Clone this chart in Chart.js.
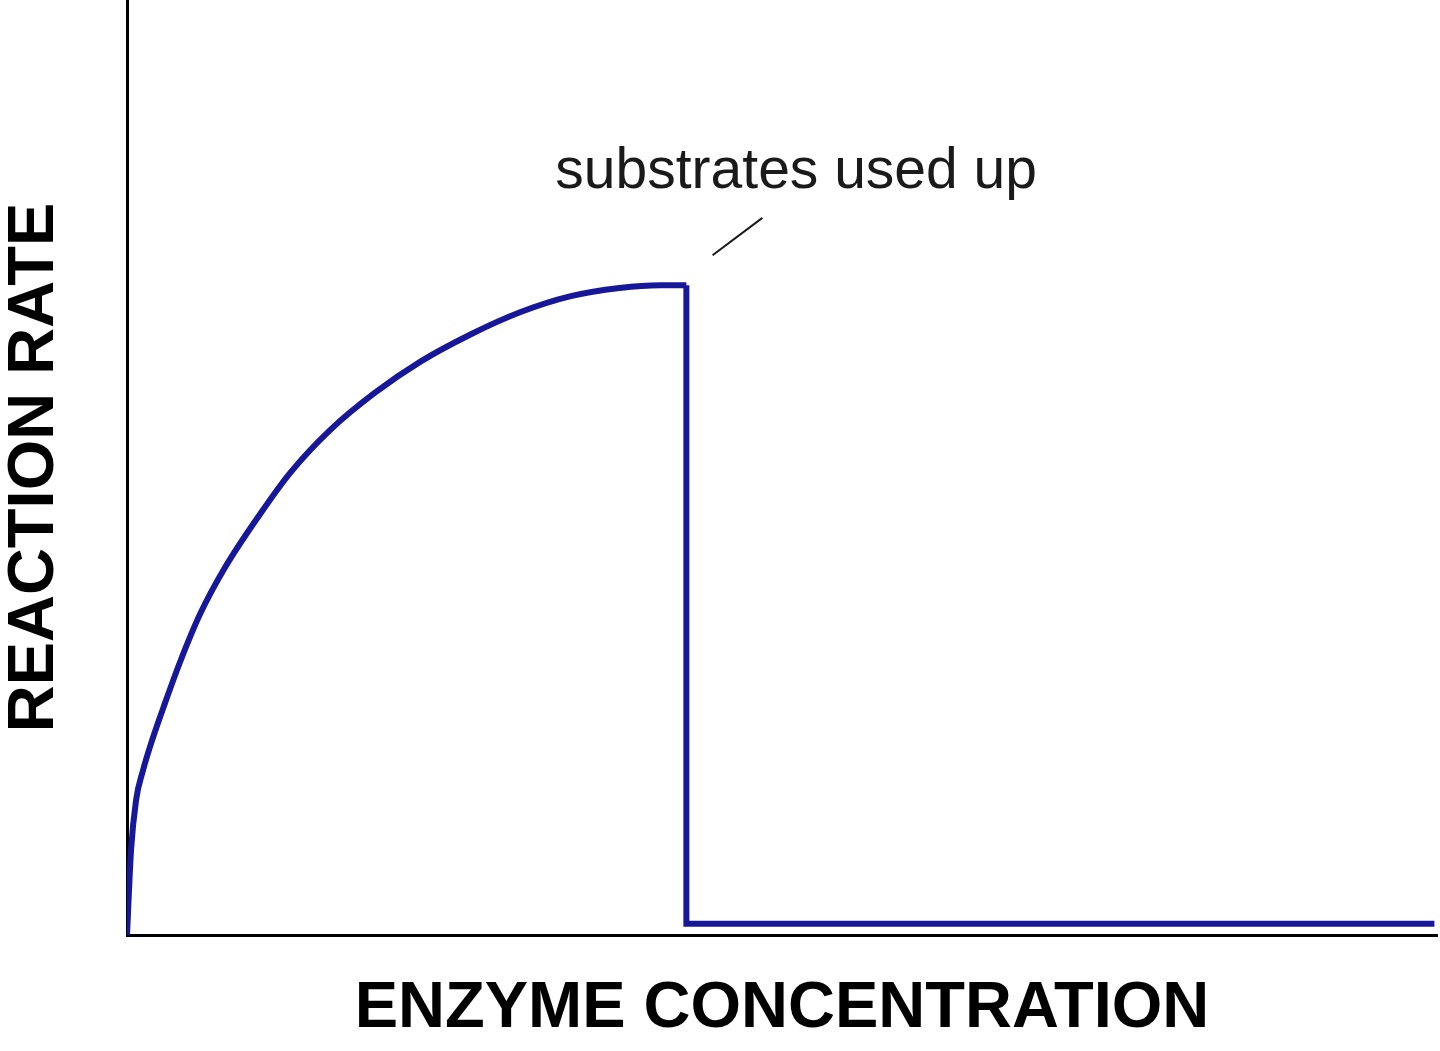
<!DOCTYPE html>
<html>
<head>
<meta charset="utf-8">
<title>Reaction rate vs enzyme concentration</title>
<script src="https://cdn.jsdelivr.net/npm/chart.js@4.4.1/dist/chart.umd.min.js"></script>
<style>
  html, body { margin: 0; padding: 0; background: #fff; }
  #wrap { width: 1440px; height: 1051px; }
</style>
</head>
<body>
<div id="wrap"><canvas id="chart" width="1440" height="1051"></canvas></div>
<script>
// enzyme concentration (0-100, arbitrary units) and reaction rate (0-100)
const enzymeConc = [0, 0.31, 0.69, 1.22, 1.98, 2.9, 4.05, 5.57, 7.48, 10.15, 12.44, 15.5, 18.93, 22.37, 26.18, 30.0, 33.8, 37.6, 40.7, 42.7, 42.7, 99.8];
const reactionRate = [0, 9.1, 14.4, 17.6, 21.1, 24.8, 29.2, 34.3, 39.3, 45.0, 49.4, 54.0, 58.0, 61.3, 64.2, 66.6, 68.3, 69.2, 69.5, 69.5, 1.2, 1.2];
const plateauEnd = 19; // index where the substrate runs out

const xTitle = 'ENZYME CONCENTRATION';
const yTitle = 'REACTION RATE';
const noteText = 'substrates used up';
const notePos = [32.7, 79.9];             // where the label starts
const noteLeader = [[44.7, 72.7], [48.5, 76.7]]; // little pointer line

const points = enzymeConc.map((x, i) => ({ x: x, y: reactionRate[i] }));
const lineColor = '#17179a';

// draws the text note and its pointer line
const notePlugin = {
  id: 'note',
  afterDatasetsDraw(chart) {
    const ctx = chart.ctx;
    const xs = chart.scales.x, ys = chart.scales.y;
    ctx.save();
    ctx.fillStyle = '#1a1a1a';
    ctx.font = '400 57px "Liberation Sans", Arial, sans-serif';
    ctx.textBaseline = 'alphabetic';
    ctx.fillText(noteText, xs.getPixelForValue(notePos[0]), ys.getPixelForValue(notePos[1]));
    ctx.strokeStyle = '#1a1a1a';
    ctx.lineWidth = 2;
    ctx.beginPath();
    ctx.moveTo(xs.getPixelForValue(noteLeader[0][0]), ys.getPixelForValue(noteLeader[0][1]));
    ctx.lineTo(xs.getPixelForValue(noteLeader[1][0]), ys.getPixelForValue(noteLeader[1][1]));
    ctx.stroke();
    ctx.restore();
  }
};

new Chart(document.getElementById('chart'), {
  type: 'line',
  data: {
    datasets: [{
      // rising curve up to the plateau
      data: points.slice(0, plateauEnd + 1),
      borderColor: lineColor,
      borderWidth: 6,
      pointRadius: 0,
      cubicInterpolationMode: 'monotone',
      fill: false
    }, {
      // sudden drop once substrates are gone
      data: points.slice(plateauEnd),
      borderColor: lineColor,
      borderWidth: 6,
      pointRadius: 0,
      tension: 0,
      borderJoinStyle: 'miter',
      fill: false
    }]
  },
  options: {
    responsive: false,
    animation: false,
    devicePixelRatio: 1,
    layout: { padding: { top: 0, right: 3, bottom: 0, left: 0 } },
    plugins: { legend: { display: false }, tooltip: { enabled: false } },
    scales: {
      x: {
        type: 'linear',
        min: 0, max: 100,
        grid: { display: false },
        ticks: { display: false },
        border: { color: '#000', width: 3 },
        title: {
          display: true,
          text: xTitle,
          color: '#000',
          font: { family: '"Liberation Sans", Arial, sans-serif', size: 65, weight: 'bold', lineHeight: 1 },
          padding: { top: 0, bottom: 9 }
        },
        afterFit: s => { s.height = 116; }
      },
      y: {
        type: 'linear',
        min: 0, max: 100,
        grid: { display: false },
        ticks: { display: false },
        border: { color: '#000', width: 3 },
        title: {
          display: true,
          text: yTitle,
          color: '#000',
          font: { family: '"Liberation Sans", Arial, sans-serif', size: 65, weight: 'bold', lineHeight: 1 },
          padding: { top: 3, bottom: 0 }
        },
        afterFit: s => { s.width = 127; }
      }
    }
  },
  plugins: [notePlugin]
});
</script>
</body>
</html>
